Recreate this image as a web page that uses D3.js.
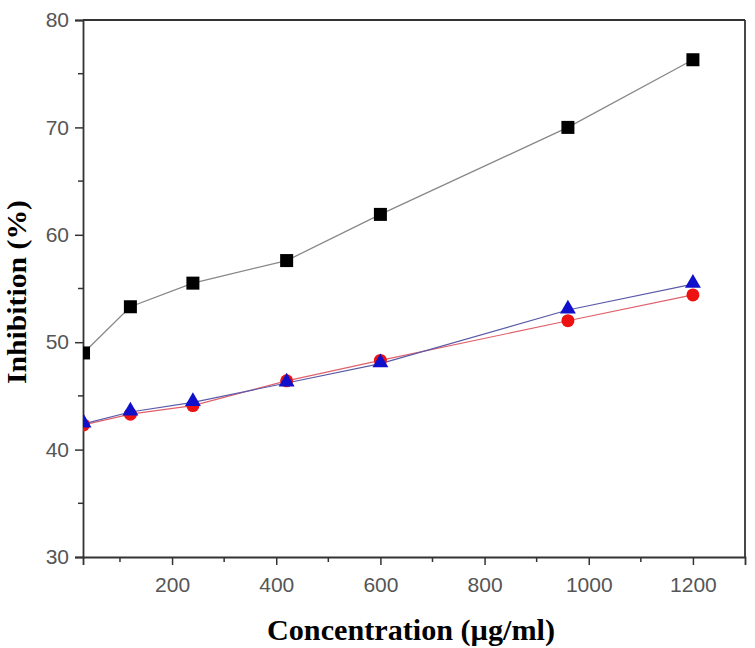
<!DOCTYPE html>
<html><head><meta charset="utf-8">
<script src="https://cdn.jsdelivr.net/npm/d3@7"></script>
<style>body{margin:0;background:#fff}</style>
</head><body>
<svg id="c" width="755" height="648"></svg>
<script>
const concentrations = [30, 120, 240, 420, 600, 960, 1200];
const seriesBlack = [49.0, 53.3, 55.5, 57.6, 61.9, 70.0, 76.3];
const seriesRed = [42.3, 43.3, 44.1, 46.4, 48.3, 52.0, 54.4];
const seriesBlue = [42.4, 43.5, 44.4, 46.2, 48.0, 53.0, 55.4];
const xTicks = [200, 400, 600, 800, 1000, 1200];
const yTicks = [30, 40, 50, 60, 70, 80];

const svg = d3.select("#c");
const L = 83, R = 745, T = 20, B = 557;
const x = d3.scaleLinear().domain([29, 1300]).range([L, R]);
const y = d3.scaleLinear().domain([30, 80]).range([B, T]);

svg.append("defs").append("clipPath").attr("id","clip")
  .append("rect").attr("x",L).attr("y",T-10).attr("width",R-L).attr("height",B-T+10);

const axisColor = "#333";
const tickColor = "#555";

// frame top & right
svg.append("line").attr("x1",L).attr("x2",R).attr("y1",T).attr("y2",T).attr("stroke",axisColor).attr("stroke-width",1.8);
svg.append("line").attr("x1",R).attr("x2",R).attr("y1",T).attr("y2",B).attr("stroke",axisColor).attr("stroke-width",1.8);

// x axis
const xMinor = d3.range(100, 1300, 200);
const gx = svg.append("g").attr("transform",`translate(0,${B})`)
  .call(d3.axisBottom(x).tickValues(xTicks).tickSize(8).tickPadding(12).tickFormat(d3.format("d")));
gx.select(".domain").attr("stroke",axisColor).attr("stroke-width",1.8);
gx.selectAll(".tick line").attr("stroke",axisColor).attr("stroke-width",1.5);
gx.selectAll("text").attr("font-family","Liberation Sans, Arial, sans-serif").attr("font-size",21).attr("fill",tickColor);
gx.selectAll(".minor").data(xMinor).enter().append("line").attr("class","minor")
  .attr("x1",d=>x(d)).attr("x2",d=>x(d)).attr("y1",0).attr("y2",5).attr("stroke",axisColor).attr("stroke-width",1.5);

// y axis
const yMinor = d3.range(35, 80, 10);
const gy = svg.append("g").attr("transform",`translate(${L},0)`)
  .call(d3.axisLeft(y).tickValues(yTicks).tickSize(8).tickPadding(6).tickFormat(d3.format("d")));
gy.select(".domain").attr("stroke",axisColor).attr("stroke-width",1.8);
gy.selectAll(".tick line").attr("stroke",axisColor).attr("stroke-width",1.5);
gy.selectAll("text").attr("font-family","Liberation Sans, Arial, sans-serif").attr("font-size",21).attr("fill",tickColor);
gy.selectAll(".minor").data(yMinor).enter().append("line").attr("class","minor")
  .attr("x1",0).attr("x2",-5).attr("y1",d=>y(d)).attr("y2",d=>y(d)).attr("stroke",axisColor).attr("stroke-width",1.5);

const plot = svg.append("g").attr("clip-path","url(#clip)");
const line = d3.line().x((d,i)=>x(concentrations[i])).y(d=>y(d));

plot.append("path").datum(seriesBlack).attr("d",line).attr("fill","none").attr("stroke","#888").attr("stroke-width",1.3);
plot.append("path").datum(seriesRed).attr("d",line).attr("fill","none").attr("stroke","#e0606a").attr("stroke-width",1.2);
plot.append("path").datum(seriesBlue).attr("d",line).attr("fill","none").attr("stroke","#5a5aa8").attr("stroke-width",1.2);

plot.selectAll(".sq").data(seriesBlack).enter().append("rect")
  .attr("x",(d,i)=>x(concentrations[i])-6.5).attr("y",d=>y(d)-6.5).attr("width",13).attr("height",13).attr("fill","#000");
plot.selectAll(".ci").data(seriesRed).enter().append("circle")
  .attr("cx",(d,i)=>x(concentrations[i])).attr("cy",d=>y(d)).attr("r",6.5).attr("fill","#ee1111");
const tri = d3.symbol().type(d3.symbolTriangle).size(110);
plot.selectAll(".tr").data(seriesBlue).enter().append("path")
  .attr("d",tri).attr("transform",(d,i)=>`translate(${x(concentrations[i])},${y(d)-1})`).attr("fill","#1010cc");

// titles
svg.append("text").attr("x",411).attr("y",640).attr("text-anchor","middle")
  .attr("font-family","Liberation Serif, Times New Roman, serif").attr("font-weight","bold").attr("font-size",29).attr("fill","#000")
  .attr("textLength",288).attr("lengthAdjust","spacingAndGlyphs")
  .text("Concentration (µg/ml)");
svg.append("text").attr("transform","translate(26,292) rotate(-90)").attr("text-anchor","middle")
  .attr("font-family","Liberation Serif, Times New Roman, serif").attr("font-weight","bold").attr("font-size",27).attr("fill","#000")
  .attr("textLength",184).attr("lengthAdjust","spacingAndGlyphs")
  .text("Inhibition (%)");
</script>
</body></html>
